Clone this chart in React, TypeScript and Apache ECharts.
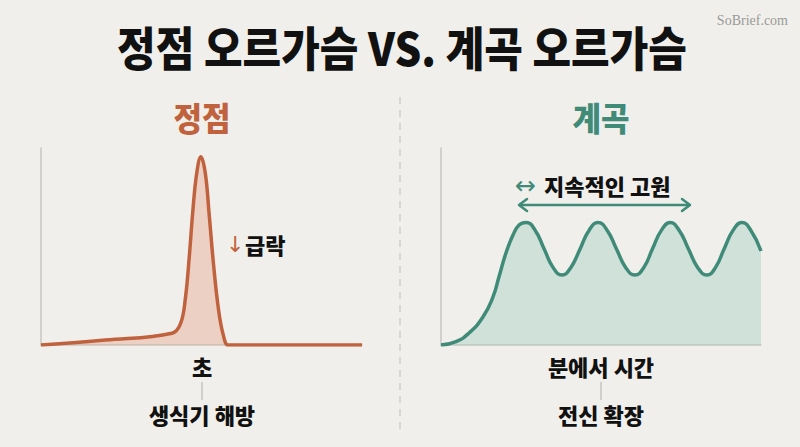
import React, { useEffect, useRef } from "react";
import * as echarts from "echarts";

// Peak curve: slow build, sharp spike, sudden drop
const peakX = [0, 20, 40.8, 43.5, 45, 46.2, 47.3, 48.5, 49.8, 51.2, 52.4, 53.8, 55.3, 56.8, 58.3, 61, 100];
const peakY = [0, 2.5, 6, 11, 24, 45, 68, 87, 95.5, 87, 66, 40, 18, 5, 0, 0, 0];

// Valley curve: gradual rise, then repeated waves on a sustained plateau
const valleyX = [
  0, 4.7, 8.75, 13.1, 16.25, 18.1, 20.3, 22.5, 24.4, 26.6,
  29.4, 32.2, 35.0, 37.8, 40.6, 43.5, 46.3, 49.1,
  51.9, 54.8, 57.7, 60.6, 63.4, 66.1, 68.9, 71.6,
  74.4, 77.3, 80.2, 83.1, 85.8, 88.5, 91.3, 94,
  96.8, 100,
];
const valleyY = [
  0, 1.7, 6.1, 14.2, 24.4, 34.5, 46.7, 55.8, 60.9, 62.2,
  58.3, 48.9, 39.4, 35.5, 39.4, 48.9, 58.3, 62.2,
  58.3, 48.9, 39.4, 35.5, 39.4, 48.9, 58.3, 62.2,
  58.3, 48.9, 39.4, 35.5, 39.4, 48.9, 58.3, 62.2,
  58.3, 47.7,
];

const TITLE = "정점 오르가슴 VS. 계곡 오르가슴";
const PEAK_LABEL = "정점";
const VALLEY_LABEL = "계곡";
const PEAK_TIME = "초";
const PEAK_DESC = "생식기 해방";
const VALLEY_TIME = "분에서 시간";
const VALLEY_DESC = "전신 확장";
const DROP_TEXT = "급락";
const PLATEAU_TEXT = "지속적인 고원";

const RUST = "#bf623d";
const RUST_FILL = "rgba(232, 158, 132, 0.55)";
const TEAL = "#3f8b78";
const TEAL_FILL = "rgba(150, 200, 185, 0.5)";
const BG = "#f0efeb";
const AXIS = "#c6c6c3";
const FONT = "'Noto Sans CJK KR', 'Noto Sans', sans-serif";

const zip = (xs: number[], ys: number[]) => xs.map((x, i) => [x, ys[i]]);

export default function App() {
  const ref = useRef<HTMLDivElement>(null);

  useEffect(() => {
    if (!ref.current) return;
    const chart = echarts.init(ref.current, null, { renderer: "svg" });

    const axis = (gridIndex: number) => ({
      type: "value" as const,
      gridIndex,
      min: 0,
      max: 100,
      axisLine: { show: true, lineStyle: { color: AXIS, width: 1.5 } },
      axisTick: { show: false },
      axisLabel: { show: false },
      splitLine: { show: false },
    });

    const label = (text: string, x: number, y: number, size: number, color: string, weight = 700, sy = 1) => ({
      type: "text",
      x,
      y,
      scaleY: sy,
      silent: true,
      style: {
        text,
        x: 0,
        y: 0,
        fill: color,
        font: `${weight} ${size}px ${FONT}`,
        textAlign: "center",
        textVerticalAlign: "middle",
      },
    });

    const arrowGlyph = (text: string, x: number, y: number, color: string, size: number) => ({
      type: "text",
      x,
      y,
      silent: true,
      style: {
        text,
        x: 0,
        y: 0,
        fill: color,
        font: `${size}px 'DejaVu Sans', sans-serif`,
        textVerticalAlign: "middle",
      },
    });

    const chevron = (x: number, y: number, dir: number) => ({
      type: "polyline",
      silent: true,
      shape: { points: [[x + dir * 8, y - 6], [x, y], [x + dir * 8, y + 6]] },
      style: { stroke: TEAL, lineWidth: 2.5, fill: "none", lineCap: "round", lineJoin: "round" },
    });

    chart.setOption({
      animation: false,
      backgroundColor: BG,
      grid: [
        { left: 41, top: 148, width: 321, height: 197 },
        { left: 441, top: 148, width: 320, height: 197 },
      ],
      xAxis: [axis(0), axis(1)],
      yAxis: [axis(0), axis(1)],
      series: [
        {
          type: "line",
          xAxisIndex: 0,
          yAxisIndex: 0,
          data: zip(peakX, peakY),
          smooth: 0.4,
          showSymbol: false,
          lineStyle: { color: RUST, width: 3.5 },
          areaStyle: { color: RUST_FILL },
          z: 3,
        },
        {
          type: "line",
          xAxisIndex: 1,
          yAxisIndex: 1,
          data: zip(valleyX, valleyY),
          smooth: 0.5,
          showSymbol: false,
          lineStyle: { color: TEAL, width: 3.5 },
          areaStyle: { color: TEAL_FILL },
          z: 3,
        },
      ],
      graphic: [
        label(TITLE, 402, 46, 42, "#111111", 900, 1.1),
        {
          type: "text",
          right: 12,
          top: 13,
          silent: true,
          style: { text: "SoBrief.com", fill: "#9a9a98", font: "14px 'Liberation Serif', serif" },
        },
        {
          type: "line",
          silent: true,
          shape: { x1: 400, y1: 97, x2: 400, y2: 432 },
          style: { stroke: "#cfcfcc", lineWidth: 1.5, lineDash: [7, 6] },
        },
        label(PEAK_LABEL, 202, 117, 31, RUST, 900, 1.05),
        label(VALLEY_LABEL, 601, 117, 31, TEAL, 900, 1.05),
        // drop annotation
        arrowGlyph("↓", 226, 244, RUST, 22),
        {
          type: "text",
          x: 245,
          y: 244,
          silent: true,
          style: {
            text: DROP_TEXT,
            x: 0,
            y: 0,
            fill: "#111111",
            font: `900 22px ${FONT}`,
            textVerticalAlign: "middle",
          },
        },
        // plateau annotation
        arrowGlyph("↔", 515, 185, TEAL, 25),
        {
          type: "text",
          x: 544,
          y: 185,
          silent: true,
          style: {
            text: PLATEAU_TEXT,
            x: 0,
            y: 0,
            fill: "#111111",
            font: `900 22px ${FONT}`,
            textVerticalAlign: "middle",
          },
        },
        {
          type: "line",
          silent: true,
          shape: { x1: 519, y1: 205, x2: 690, y2: 205 },
          style: { stroke: TEAL, lineWidth: 2.5 },
        },
        chevron(519, 205, 1),
        chevron(690, 205, -1),
        // bottom descriptors
        label(PEAK_TIME, 202, 366, 22, "#111111", 900),
        {
          type: "line",
          silent: true,
          shape: { x1: 202, y1: 382, x2: 202, y2: 400 },
          style: { stroke: "#c4c4c1", lineWidth: 1.5 },
        },
        label(PEAK_DESC, 202, 414, 22, "#111111", 900),
        label(VALLEY_TIME, 601, 366, 22, "#111111", 900),
        {
          type: "line",
          silent: true,
          shape: { x1: 601, y1: 382, x2: 601, y2: 400 },
          style: { stroke: "#c4c4c1", lineWidth: 1.5 },
        },
        label(VALLEY_DESC, 601, 414, 22, "#111111", 900),
      ],
    });

    return () => chart.dispose();
  }, []);

  return (
    <div
      ref={ref}
      style={{ position: "fixed", left: 0, top: 0, width: 800, height: 447 }}
    />
  );
}
